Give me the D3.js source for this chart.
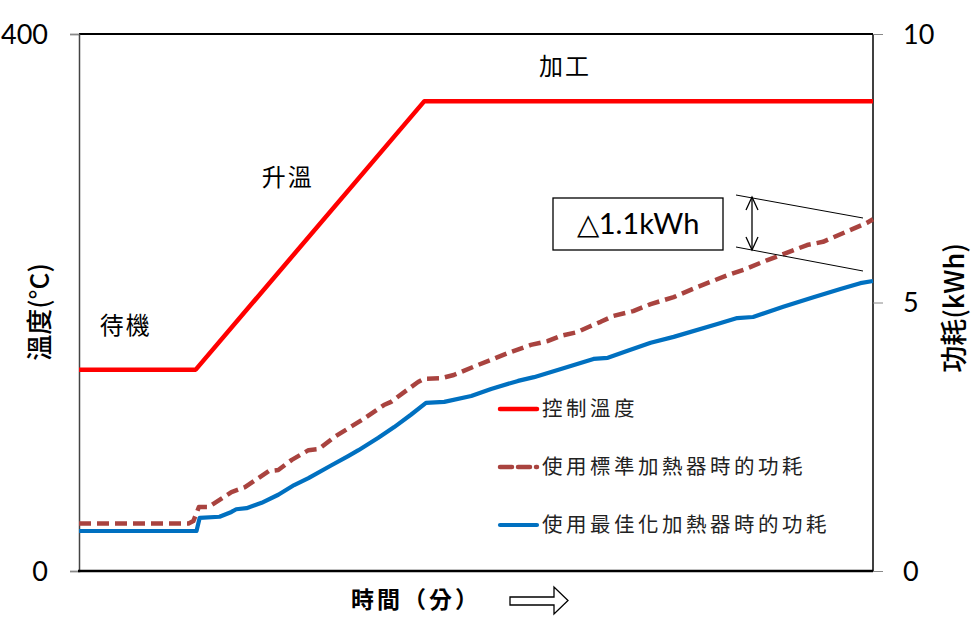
<!DOCTYPE html>
<html>
<head>
<meta charset="utf-8">
<script src="https://cdn.jsdelivr.net/npm/d3@7"></script>
<style>
  body { margin: 0; background: #fff; }
  svg { display: block; }
  .cjk { font-family: "Noto Sans CJK TC", "Noto Sans CJK SC", sans-serif; fill: #000; }
  .num { font-family: Lato, "Open Sans", sans-serif; fill: #000; }
</style>
</head>
<body>
<div id="chart"></div>
<script>
// time in minutes (0-100), temperature in °C, power in kWh
const tempTime = [0, 14.7, 43.5, 100];
const tempValue = [150, 150, 350, 350];

const stdTime = [0, 13.8, 14.4, 15.1, 16.3, 19.2, 20.9, 23.9, 25.1, 26.8, 28.9, 30.2, 32.2, 35.6, 38.4, 39.3, 42.7, 43.5,
  45.6, 47.2, 50.3, 54.4, 56.9, 59.0, 60.7, 62.8, 64.1, 65.7, 67.3, 69.8, 72.0, 74.9, 77.9, 81.7, 83.7, 86.7, 88.7,
  91.7, 93.7, 96.2, 99.2, 100];
const stdPower = [0.885, 0.885, 0.93, 1.19, 1.19, 1.47, 1.56, 1.86, 1.88, 2.07, 2.25, 2.27, 2.50, 2.81, 3.09, 3.15, 3.52, 3.58,
  3.59, 3.65, 3.84, 4.08, 4.21, 4.28, 4.38, 4.45, 4.54, 4.64, 4.75, 4.84, 4.97, 5.10, 5.29, 5.51, 5.61, 5.79, 5.90,
  6.07, 6.13, 6.29, 6.48, 6.55];

const optTime = [0, 14.8, 15.2, 17.7, 19.2, 19.8, 21.1, 23.0, 25.1, 27.1, 28.9, 31.8, 33.9, 35.2, 37.7, 39.7, 41.8, 43.7,
  46.0, 49.4, 51.9, 55.3, 57.3, 60.7, 64.8, 66.6, 69.1, 72.0, 74.9, 80.4, 82.9, 84.9, 88.7, 92.5, 95.9, 98.4, 100];
const optPower = [0.745, 0.745, 0.99, 1.01, 1.10, 1.15, 1.17, 1.27, 1.42, 1.60, 1.73, 1.97, 2.14, 2.25, 2.48, 2.68, 2.91, 3.13,
  3.15, 3.26, 3.39, 3.54, 3.61, 3.76, 3.95, 3.97, 4.10, 4.25, 4.36, 4.60, 4.71, 4.73, 4.92, 5.10, 5.25, 5.36, 5.40];

const leftTicks = [0, 400];
const rightTicks = [0, 5, 10];
const legendLabels = ["控制溫度", "使用標準加熱器時的功耗", "使用最佳化加熱器時的功耗"];
const phaseLabels = [
  { text: "待機", t: 5.9, temp: 183 },
  { text: "升溫", t: 26.3, temp: 293 },
  { text: "加工", t: 61.2, temp: 376 }
];

(() => {
  const W = 975, H = 636;
  const mL = 79, mR = 873, mT = 34, mB = 571;

  const svg = d3.select("#chart").append("svg").attr("width", W).attr("height", H);

  const x = d3.scaleLinear().domain([0, 100]).range([mL, mR]);
  const yT = d3.scaleLinear().domain([0, 400]).range([mB, mT]);
  const yP = d3.scaleLinear().domain([0, 10]).range([mB, mT]);

  // frame
  svg.append("line").attr("x1", mL).attr("x2", mR).attr("y1", mT).attr("y2", mT)
    .attr("stroke", "#000").attr("stroke-width", 2);
  svg.append("line").attr("x1", mR).attr("x2", mR).attr("y1", mT).attr("y2", mB)
    .attr("stroke", "#000").attr("stroke-width", 1.5);

  // axes
  const axL = svg.append("g").attr("transform", `translate(${mL},0)`)
    .call(d3.axisLeft(yT).tickValues(leftTicks).tickSize(9).tickPadding(22));
  axL.select(".domain").attr("stroke", "#444").attr("stroke-width", 1.5);
  axL.selectAll(".tick line").attr("stroke", "#888");
  axL.selectAll(".tick text").attr("class", "num").style("font-size", "27px").attr("dy", "0.35em");

  const axR = svg.append("g").attr("transform", `translate(${mR},0)`)
    .call(d3.axisRight(yP).tickValues(rightTicks).tickSize(10).tickPadding(20));
  axR.select(".domain").remove();
  axR.selectAll(".tick line").attr("stroke", "#888");
  axR.selectAll(".tick text").attr("class", "num").style("font-size", "27px").attr("dy", "0.35em");

  svg.append("line").attr("x1", mL - 1).attr("x2", mR).attr("y1", mB).attr("y2", mB)
    .attr("stroke", "#000").attr("stroke-width", 2.6);

  // axis titles
  svg.append("text").attr("class", "cjk").attr("transform", `translate(49,312) rotate(-90)`)
    .attr("text-anchor", "middle").style("font-size", "26px").style("font-weight", 500).text("溫度(°C)");
  svg.append("text").attr("class", "cjk").attr("transform", `translate(964,308) rotate(-90)`)
    .attr("text-anchor", "middle").style("font-size", "27px").style("font-weight", 500).text("功耗(kWh)");

  svg.append("text").attr("class", "cjk").attr("x", 351).attr("y", 608)
    .style("font-size", "23px").style("font-weight", 600).style("letter-spacing", "3px").text("時間（分）");

  // hollow arrow
  const ap = d3.path();
  ap.moveTo(510, 597); ap.lineTo(554, 597); ap.lineTo(554, 587);
  ap.lineTo(568, 600.5); ap.lineTo(554, 614); ap.lineTo(554, 605);
  ap.lineTo(510, 605); ap.closePath();
  svg.append("path").attr("d", ap.toString()).attr("fill", "#fff").attr("stroke", "#000").attr("stroke-width", 1.3);

  // lines
  const tempData = tempTime.map((t, i) => [t, tempValue[i]]);
  const stdData = stdTime.map((t, i) => [t, stdPower[i]]);
  const optData = optTime.map((t, i) => [t, optPower[i]]);

  svg.append("path").datum(optData)
    .attr("d", d3.line().x(d => x(d[0])).y(d => yP(d[1])))
    .attr("fill", "none").attr("stroke", "#0070C0").attr("stroke-width", 4.2).attr("stroke-linejoin", "round");

  svg.append("path").datum(stdData)
    .attr("d", d3.line().x(d => x(d[0])).y(d => yP(d[1])))
    .attr("fill", "none").attr("stroke", "#A9433F").attr("stroke-width", 4.5)
    .attr("stroke-dasharray", "12,6").attr("stroke-linejoin", "round");

  svg.append("path").datum(tempData)
    .attr("d", d3.line().x(d => x(d[0])).y(d => yT(d[1])))
    .attr("fill", "none").attr("stroke", "#FF0000").attr("stroke-width", 4.5).attr("stroke-linejoin", "round");

  // phase labels
  svg.selectAll("text.phase").data(phaseLabels).join("text")
    .attr("class", "cjk phase")
    .attr("x", d => x(d.t)).attr("y", d => yT(d.temp))
    .attr("text-anchor", "middle").attr("dy", "0.35em")
    .style("font-size", "24px").style("letter-spacing", "2px")
    .text(d => d.text);

  // delta annotation
  svg.append("rect").attr("x", 553).attr("y", 198).attr("width", 170).attr("height", 52)
    .attr("fill", "#fff").attr("stroke", "#000").attr("stroke-width", 1.3);
  svg.append("text").attr("class", "num").attr("x", 638).attr("y", 224).attr("dy", "0.36em")
    .attr("text-anchor", "middle").style("font-size", "29px").text("△1.1kWh");

  const g = svg.append("g").attr("stroke", "#000").attr("fill", "none").attr("stroke-width", 1);
  g.append("line").attr("x1", 736).attr("y1", 195).attr("x2", 863).attr("y2", 218);
  g.append("line").attr("x1", 736).attr("y1", 247).attr("x2", 863).attr("y2", 271);
  g.append("line").attr("x1", 752).attr("y1", 197).attr("x2", 752).attr("y2", 250).attr("stroke-width", 1.3);
  g.append("path").attr("d", "M746,210 L752,197 L758,210").attr("stroke-width", 1.3);
  g.append("path").attr("d", "M746,237 L752,250 L758,237").attr("stroke-width", 1.3);

  // legend
  const legY = [409, 467, 525];
  const legStyles = [
    { color: "#FF0000", dash: null, w: 4.5 },
    { color: "#A9433F", dash: "12,6", w: 4.5 },
    { color: "#0070C0", dash: null, w: 4.2 }
  ];
  const leg = svg.append("g");
  legendLabels.forEach((lab, i) => {
    leg.append("line").attr("x1", 500).attr("x2", 537).attr("y1", legY[i]).attr("y2", legY[i])
      .attr("stroke", legStyles[i].color).attr("stroke-width", legStyles[i].w)
      .attr("stroke-dasharray", legStyles[i].dash).attr("stroke-linecap", "round");
    leg.append("text").attr("class", "cjk").attr("x", 542).attr("y", legY[i]).attr("dy", "0.36em")
      .style("font-size", "20.5px").style("letter-spacing", "3.5px").style("fill", "#222").text(lab);
  });
})();
</script>
</body>
</html>
